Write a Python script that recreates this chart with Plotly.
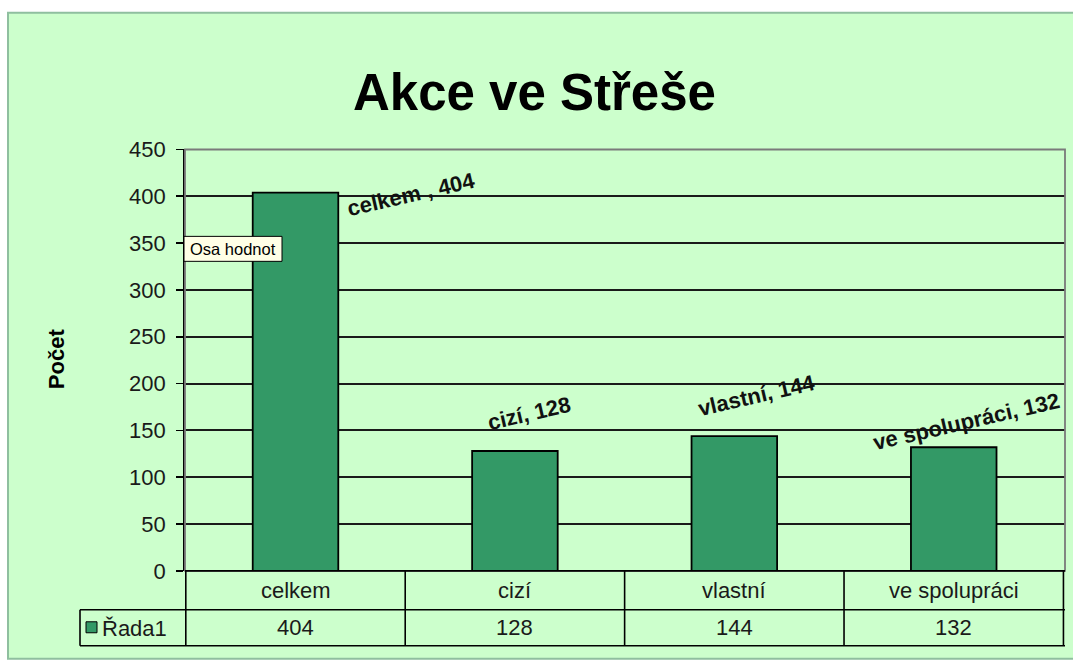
import plotly.graph_objects as go

# ---- data ----
categories = ["celkem", "cizí", "vlastní", "ve spolupráci"]
values = [404, 128, 144, 132]
label_texts = ["celkem , 404", "cizí, 128", "vlastní, 144", "ve spolupráci, 132"]
series_name = "Řada1"
y_ticks = [0, 50, 100, 150, 200, 250, 300, 350, 400, 450]
title_text = "Akce ve Střeše"
y_title = "Počet"
tooltip_text = "Osa hodnot"

# ---- style / layout (pixel positions measured on the reference) ----
W = 1073
HF = 677                  # figure height
OFF, SC = 12.3, 0.9645    # observed capture offset / vertical scale
FONT = "Liberation Sans, Arial, sans-serif"
BG = "#CCFFCC"
PLOT_BG = "#C0C0C0"
BAR = "#339966"
label_shift = [(115, -2), (14, 36), (22, 39), (13, 25)]  # (xshift, yshift) px


def px(x):
    return x / W


def py(y):
    return 1 - ((y - OFF) / SC) / HF


PL, PR, PT, PB = 185, 1065, 150, 572  # plot area pixels
ROW1, ROW2 = 611, 647
LEG_L = 80

fig = go.Figure()
fig.add_trace(go.Bar(
    x=categories, y=values, name=series_name,
    marker=dict(color=BAR, line=dict(color="black", width=1.8)),
    showlegend=False, hoverinfo="skip",
))

shapes = []
shapes.append(dict(type="rect", xref="paper", yref="paper", x0=px(8), x1=px(1080), y0=py(660), y1=py(13),
                   fillcolor=BG, line=dict(color="#8FBF9F", width=2), layer="below"))
shapes.append(dict(type="rect", xref="paper", yref="paper", x0=px(PL), x1=px(PR), y0=py(PB), y1=py(PT),
                   line=dict(color="#7A7A7A", width=1.8), layer="above"))
lc = dict(color="black", width=1.6)
shapes.append(dict(type="line", xref="paper", yref="paper", x0=px(PL), x1=px(PR), y0=py(PB), y1=py(PB), line=lc))
shapes.append(dict(type="line", xref="paper", yref="paper", x0=px(LEG_L), x1=px(PR), y0=py(ROW1), y1=py(ROW1), line=lc))
shapes.append(dict(type="line", xref="paper", yref="paper", x0=px(LEG_L), x1=px(PR), y0=py(ROW2), y1=py(ROW2), line=lc))
shapes.append(dict(type="line", xref="paper", yref="paper", x0=px(LEG_L), x1=px(LEG_L), y0=py(ROW1), y1=py(ROW2), line=lc))
for i in range(len(categories) + 1):
    shapes.append(dict(type="line", xref="x", yref="paper", x0=i - 0.5, x1=i - 0.5,
                       y0=py(PB), y1=py(ROW2), line=lc))
shapes.append(dict(type="rect", xref="paper", yref="paper", x0=px(86), x1=px(97), y0=py(634), y1=py(623),
                   fillcolor=BAR, line=dict(color="black", width=1)))
shapes.append(dict(type="rect", xref="paper", yref="paper", x0=px(184), x1=px(282), y0=py(262), y1=py(237),
                   fillcolor="#FFFFE6", line=dict(color="black", width=1), layer="above"))

ann = []
ann.append(dict(text=f"<b>{title_text}</b>", xref="paper", yref="paper", x=px(534), y=py(93),
                xanchor="center", yanchor="middle", showarrow=False,
                font=dict(family=FONT, size=51, color="black")))
ann.append(dict(text=f"<b>{y_title}</b>", xref="paper", yref="paper", x=px(56), y=py(360),
                xanchor="center", yanchor="middle", showarrow=False, textangle=-90,
                font=dict(family=FONT, size=22, color="black")))
for c, v, t, (dx, dy) in zip(categories, values, label_texts, label_shift):
    ann.append(dict(text=f"<b>{t}</b>", xref="x", yref="y", x=c, y=v, xshift=dx, yshift=dy / SC,
                    xanchor="center", yanchor="middle", showarrow=False, textangle=-13,
                    font=dict(family=FONT, size=22, color="#111")))
    ann.append(dict(text=c, xref="x", yref="paper", x=c, y=py((PB + ROW1) / 2),
                    xanchor="center", yanchor="middle", showarrow=False,
                    font=dict(family=FONT, size=22, color="#1a1a1a")))
    ann.append(dict(text=str(v), xref="x", yref="paper", x=c, y=py((ROW1 + ROW2) / 2),
                    xanchor="center", yanchor="middle", showarrow=False,
                    font=dict(family=FONT, size=22, color="#1a1a1a")))
ann.append(dict(text=series_name, xref="paper", yref="paper", x=px(100), y=py(630),
                xanchor="left", yanchor="middle", showarrow=False,
                font=dict(family=FONT, size=22, color="#1a1a1a")))
ann.append(dict(text=tooltip_text, xref="paper", yref="paper", x=px(233), y=py(249.5),
                xanchor="center", yanchor="middle", showarrow=False,
                font=dict(family=FONT, size=16.5, color="black")))

fig.update_layout(
    width=W, height=HF, autosize=False,
    margin=dict(l=0, r=0, t=0, b=0),
    paper_bgcolor="white", plot_bgcolor=PLOT_BG,
    bargap=0.61,
    shapes=shapes, annotations=ann,
    font=dict(family=FONT),
    xaxis=dict(domain=[px(PL), px(PR)], showticklabels=False, ticks="", showgrid=False,
               zeroline=False, showline=False, fixedrange=True),
    yaxis=dict(domain=[py(PB), py(PT)], range=[0, 450], tickvals=y_ticks,
               ticks="outside", ticklen=7, tickcolor="black", tickwidth=1.8,
               ticklabelstandoff=6,
               showgrid=True, gridcolor="#1a1a1a", gridwidth=2,
               showline=True, linecolor="black", linewidth=1.8, zeroline=False,
               tickfont=dict(family=FONT, size=22, color="#1a1a1a"), fixedrange=True),
)

fig.write_html(
    "out.html",
    config={"displayModeBar": False, "staticPlot": True},
    post_script="document.body.style.margin='0';document.body.style.overflow='hidden';",
)
